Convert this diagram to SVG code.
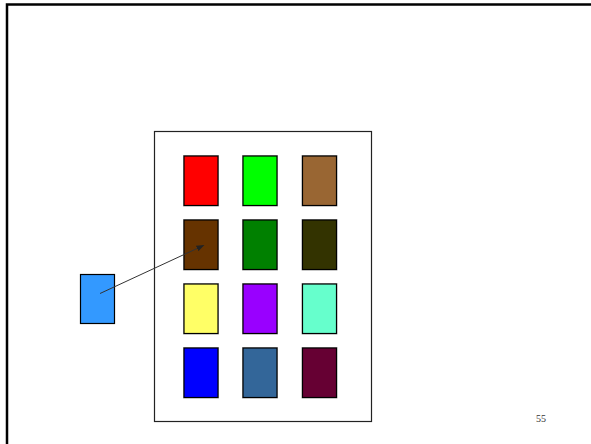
<svg xmlns="http://www.w3.org/2000/svg" width="591" height="444" viewBox="0 0 591 444">
<defs>
<style>
.c{stroke:#000;stroke-width:1.2}
.sh{fill:none;stroke:#bbb;stroke-width:1}
.lbl{font-family:"Liberation Serif",serif;font-size:10px;fill:#333}
</style>
<marker id="ah" markerWidth="8" markerHeight="6" refX="7" refY="3" orient="auto" markerUnits="userSpaceOnUse">
<path d="M0,0 L8,3 L0,6 Z" fill="#222"/>
</marker>
</defs>
<rect x="0" y="0" width="591" height="444" fill="#fff"/>
<rect id="frame" x="7" y="4.5" width="600" height="460" fill="none" stroke="#000" stroke-width="2.5"/>
<g id="board"><rect x="154.5" y="131.5" width="217" height="290" fill="#fff" stroke="#222" stroke-width="1.2"/></g>
<g id="r1c1"><rect class="sh" x="183.5" y="155.5" width="35" height="50.5"/><rect class="c" x="184" y="156" width="34" height="49.5" fill="#ff0000"/></g>
<g id="r1c2"><rect class="sh" x="242.5" y="155.5" width="35" height="50.5"/><rect class="c" x="243" y="156" width="34" height="49.5" fill="#00ff00"/></g>
<g id="r1c3"><rect class="sh" x="302" y="155.5" width="35" height="50.5"/><rect class="c" x="302.5" y="156" width="34" height="49.5" fill="#996633"/></g>
<g id="r2c1"><rect class="sh" x="183.5" y="219.5" width="35" height="50.5"/><rect class="c" x="184" y="220" width="34" height="49.5" fill="#663300"/></g>
<g id="r2c2"><rect class="sh" x="242.5" y="219.5" width="35" height="50.5"/><rect class="c" x="243" y="220" width="34" height="49.5" fill="#008000"/></g>
<g id="r2c3"><rect class="sh" x="302" y="219.5" width="35" height="50.5"/><rect class="c" x="302.5" y="220" width="34" height="49.5" fill="#333300"/></g>
<g id="r3c1"><rect class="sh" x="183.5" y="283.5" width="35" height="50.5"/><rect class="c" x="184" y="284" width="34" height="49.5" fill="#ffff66"/></g>
<g id="r3c2"><rect class="sh" x="242.5" y="283.5" width="35" height="50.5"/><rect class="c" x="243" y="284" width="34" height="49.5" fill="#9900ff"/></g>
<g id="r3c3"><rect class="sh" x="302" y="283.5" width="35" height="50.5"/><rect class="c" x="302.5" y="284" width="34" height="49.5" fill="#66ffcc"/></g>
<g id="r4c1"><rect class="sh" x="183.5" y="347.5" width="35" height="50.5"/><rect class="c" x="184" y="348" width="34" height="49.5" fill="#0000ff"/></g>
<g id="r4c2"><rect class="sh" x="242.5" y="347.5" width="35" height="50.5"/><rect class="c" x="243" y="348" width="34" height="49.5" fill="#336699"/></g>
<g id="r4c3"><rect class="sh" x="302" y="347.5" width="35" height="50.5"/><rect class="c" x="302.5" y="348" width="34" height="49.5" fill="#660033"/></g>
<g id="source"><rect class="c" x="80.5" y="274.5" width="34" height="49" fill="#3399ff"/></g>
<g id="connectors"><line x1="100" y1="293.5" x2="203.5" y2="245.5" stroke="#333" stroke-width="1" marker-end="url(#ah)"/></g>
<text class="lbl" x="536" y="422">55</text>
</svg>
